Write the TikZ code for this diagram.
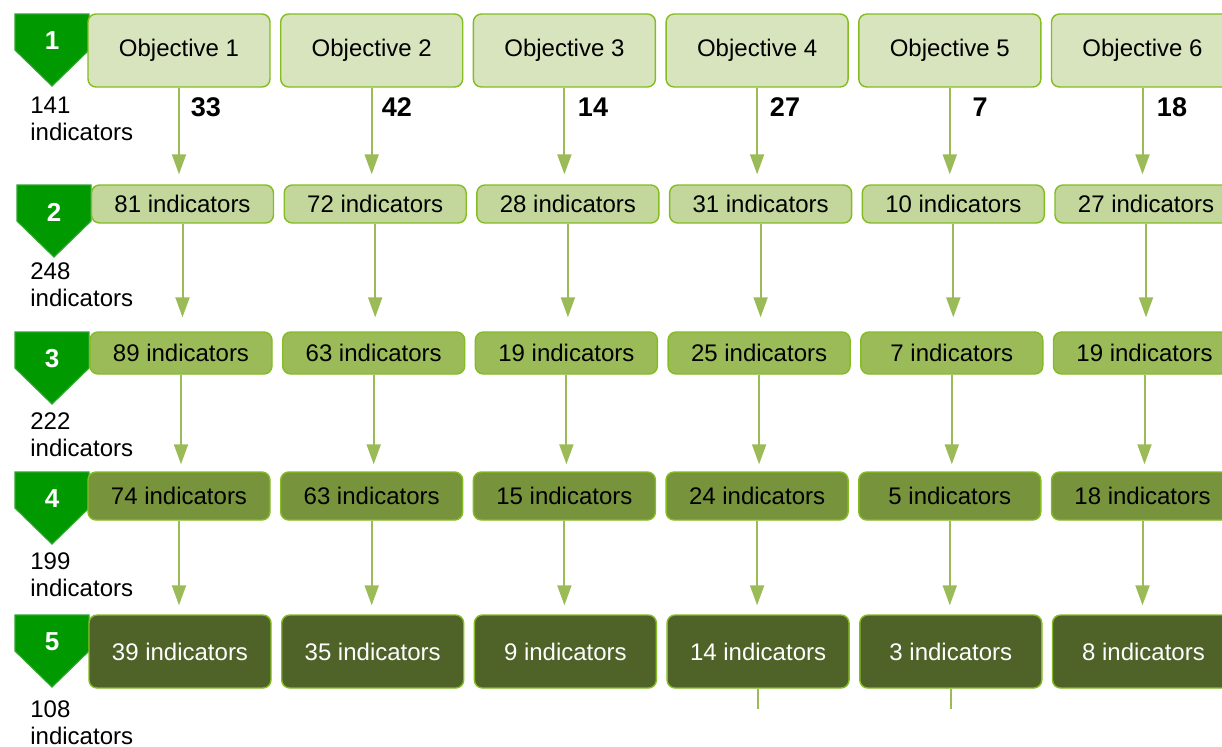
\documentclass[tikz,border=0pt]{standalone}
\usepackage{fontspec}
\setmainfont{Liberation Sans}
\usetikzlibrary{arrows.meta,calc}

\definecolor{objfill}{HTML}{D7E4BD}
\definecolor{rowtwo}{HTML}{C3D69B}
\definecolor{rowthree}{HTML}{9BBB59}
\definecolor{rowfour}{HTML}{77933C}
\definecolor{rowfive}{HTML}{4F6228}
\definecolor{boxedge}{HTML}{84BC22}
\definecolor{flowgreen}{HTML}{9BBB59}
\definecolor{levelgreen}{HTML}{009900}
\definecolor{leveledge}{HTML}{2EA52E}

\begin{document}
\begin{tikzpicture}[x=0.5pt,y=-0.5pt,
  box/.style={draw=boxedge,line width=0.7pt,rounded corners=4pt,
    minimum width=91pt,inner sep=0pt,font=\fontsize{12}{14}\selectfont},
  flow/.style={draw=flowgreen,line width=1pt,-{Triangle[width=7pt,length=10pt]}},
  stub/.style={draw=flowgreen,line width=1pt},
  chevron/.style={fill=levelgreen,draw=leveledge,line width=0.6pt},
  levelnum/.style={text=white,inner sep=0pt,font=\fontsize{13}{15}\bfseries\selectfont},
  total/.style={anchor=north west,align=left,inner sep=0pt,font=\fontsize{12}{13.5}\selectfont},
  objcount/.style={inner sep=0pt,font=\fontsize{13.5}{16}\bfseries\selectfont}
]
\useasboundingbox (0,0) rectangle (1222,746);

% level markers
\foreach \r/\xl/\yt in {1/15/14,2/17/185,3/15/332,4/15/472,5/15/615}{
  \draw[chevron] (\xl,\yt) -- ++(74,0) -- ++(0,36) -- ++(-37,36) -- ++(-37,-36) -- cycle;
  \node[levelnum] (n\r) at (\xl+37,\yt+27) {\r};
}

% totals per level
\foreach \r/\y/\n in {1/97/141,2/262/248,3/412/222,4/552/199,5/700/108}
  \node[total] (t\r) at (30,\y) {\n\\indicators};

% objectives
\foreach \c in {1,...,6}
  \node[box,fill=objfill,minimum height=36.5pt] (r1-\c) at ({179+192.7*(\c-1)},50.5) {Objective \c};

% indicator boxes
\foreach \r/\yc/\h/\xo/\fc/\tc/\vals in {
    2/204/19pt/182.5/rowtwo/black/{81,72,28,31,10,27},
    3/353/21pt/181/rowthree/black/{89,63,19,25,7,19},
    4/496/24pt/179/rowfour/black/{74,63,15,24,5,18},
    5/651.5/36.5pt/180/rowfive/white/{39,35,9,14,3,8}}
  \foreach \v [count=\c] in \vals
    \node[box,fill=\fc,text=\tc,minimum height=\h] (r\r-\c) at ({\xo+192.7*(\c-1)},\yc) {\v{} indicators};

% arrows between levels
\foreach \r/\s/\g in {1/2/10,2/3/14,3/4/7,4/5/9}
  \foreach \c in {1,...,6}
    \draw[flow] (r\r-\c.south) -- ($(r\r-\c.south |- r\s-\c.north)+(0,-\g)$);

% counts under objectives
\foreach \v/\x in {33/206,42/397,14/593,27/785,7/980,18/1172}
  \node[objcount] (k\v) at (\x,107) {\v};

% loose ends
\foreach \c in {4,5}{
  \coordinate (end\c) at ($(r5-\c.south)+(0,20)$);
  \draw[stub] (r5-\c.south) -- (end\c);
}
\end{tikzpicture}
\end{document}
